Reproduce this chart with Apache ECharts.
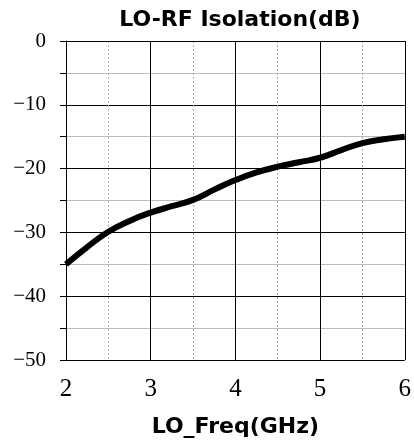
<!DOCTYPE html>
<html>
<head>
<meta charset="utf-8">
<script src="https://cdn.jsdelivr.net/npm/echarts@6/dist/echarts.min.js"></script>
<style>
  html, body { margin: 0; padding: 0; background: #fff; }
  #chart { width: 414px; height: 443px; }
</style>
</head>
<body>
<div id="chart"></div>
<script>
// data
var freq = [2, 2.25, 2.5, 2.75, 3, 3.25, 3.5, 3.75, 4, 4.25, 4.5, 4.75, 5, 5.25, 5.5, 5.75, 6];
var isolation = [-35, -32.3, -29.9, -28.2, -26.9, -25.9, -24.9, -23.3, -21.8, -20.6, -19.7, -19.0, -18.3, -17.1, -16.0, -15.4, -15.0];

var points = freq.map(function (f, i) { return [f, isolation[i]]; });

var chart = echarts.init(document.getElementById('chart'));

chart.setOption({
  animation: false,
  title: {
    text: 'LO-RF Isolation(dB)',
    left: 235,
    textAlign: 'center',
    top: 4,
    textStyle: { fontFamily: 'DejaVu Sans', fontWeight: 'bold', fontSize: 22, color: '#000' }
  },
  grid: { left: 66, right: 9, top: 41, bottom: 83 },
  xAxis: {
    type: 'value',
    min: 2, max: 6, interval: 1,
    name: 'LO_Freq(GHz)',
    nameLocation: 'middle',
    nameGap: 56,
    nameTextStyle: { fontFamily: 'DejaVu Sans', fontWeight: 'bold', fontSize: 22, color: '#000' },
    axisLine: { lineStyle: { color: '#000', width: 1 } },
    axisTick: { show: true, length: 6, lineStyle: { color: '#000' } },
    axisLabel: { fontFamily: 'Liberation Serif', fontSize: 25, color: '#000', margin: 17 },
    splitLine: { show: true, lineStyle: { color: '#000', width: 1 } },
    minorTick: { show: false, splitNumber: 2 },
    minorSplitLine: { show: true, lineStyle: { color: '#aaa', type: [2, 2], width: 1 } }
  },
  yAxis: {
    type: 'value',
    min: -50, max: 0, interval: 10,
    axisLine: { show: true, lineStyle: { color: '#000', width: 1 } },
    axisTick: { show: true, length: 6, lineStyle: { color: '#000' } },
    axisLabel: {
      fontFamily: 'Liberation Serif', fontSize: 21, color: '#000', margin: 20,
      formatter: function (v) { return String(v).replace('-', '\u2212'); }
    },
    splitLine: { show: true, lineStyle: { color: '#000', width: 1 } },
    minorTick: { show: true, splitNumber: 2, length: 6, lineStyle: { color: '#000' } },
    minorSplitLine: { show: true, lineStyle: { color: '#bbb', width: 1 } }
  },
  series: [{
    type: 'line',
    data: points,
    smooth: true,
    symbol: 'none',
    lineStyle: { color: '#000', width: 6 }
  }]
});
</script>
</body>
</html>
